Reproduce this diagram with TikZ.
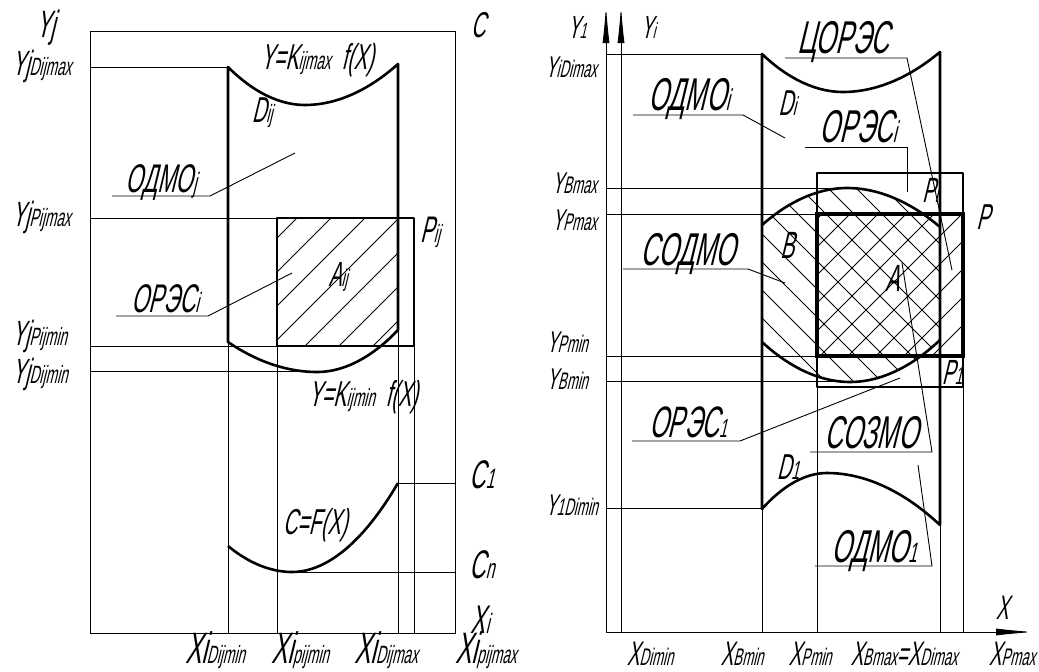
\documentclass[tikz,border=0pt]{standalone}
\usepackage{fontspec}
\newfontfamily\gost[FakeStretch=0.55,FakeSlant=0.24]{Liberation Sans}
\usetikzlibrary{arrows.meta}
\newcommand\fs[1]{\fontsize{#1}{#1}\selectfont}
\newcommand\Ls[4]{{\fs{#1}#3}{\fs{#2}#4}}
\tikzset{
  thinl/.style={line width=0.9pt},
  thickl/.style={line width=2.6pt, line join=round},
  heavy/.style={line width=3.4pt},
  hatchl/.style={line width=0.8pt},
  lbl/.style={inner sep=0pt, font=\gost},
  axisarrow/.style={line width=0.9pt, -{Latex[length=38pt,width=7pt]}},
}
\begin{document}
\begin{tikzpicture}[x=1pt,y=-1pt]
\useasboundingbox (0,0) rectangle (1039,672);

% ================= LEFT FIGURE =================
% hatching A_ij
\begin{scope}
  \clip (228,67) parabola bend (305,105) (398,64) -- (398,330) parabola bend (317,372) (228,342) -- cycle;
  \clip (277,218) rectangle (414,346);
  \foreach \k in {-2,...,8} \draw[hatchl] ({169+34*\k},346) -- ++(250,-250);
\end{scope}

% frame
\draw[thinl] (90,31) rectangle (455,633);
% horizontal guide lines
\coordinate (lyd1) at (90,67);   \coordinate (lyd2) at (228,67);
\coordinate (lyp1) at (90,218);  \coordinate (lyp2) at (277,218);
\coordinate (lyq1) at (90,346);  \coordinate (lyq2) at (277,346);
\coordinate (lye1) at (90,371);  \coordinate (lye2) at (317,371);
\draw[thinl] (lyd1) -- (lyd2) (lyp1) -- (lyp2) (lyq1) -- (lyq2) (lye1) -- (lye2);
% vertical guide lines
\draw[thinl] (228,342) -- (228,633) (277,346) -- (277,633) (398,330) -- (398,633) (414,346) -- (414,633);
\draw[thinl] (398,483) -- (455,483) (290,572) -- (455,572);

% D_ij outline
\draw[thickl] (228,67) parabola bend (305,105) (398,64) -- (398,330) parabola bend (317,372) (228,342) -- cycle;
% P_ij
\draw[thickl] (277,218) rectangle (414,346);
% C=F(X)
\draw[thickl] (228,546) parabola bend (292,572) (398,483);

% leaders left
\coordinate (u1a) at (112,196); \coordinate (u1b) at (210,196); \coordinate (u1c) at (295,153);
\coordinate (u2a) at (116,316); \coordinate (u2b) at (208,316); \coordinate (u2c) at (292,273);
\draw[thinl] (u1a) -- (u1b) -- (u1c);
\draw[thinl] (u2a) -- (u2b) -- (u2c);

% labels left
\node[lbl] (yj) at (46,28) {\fs{38}Yj};
\node[lbl] (cc) at (478,25) {\fs{36}C};
\node[lbl,anchor=base west] (yjdmax) at (12,75) {\Ls{35}{25}{Yj}{Dijmax}};
\node[lbl,anchor=base west] (yjpmax) at (12,226) {\Ls{35}{25}{Yj}{Pijmax}};
\node[lbl,anchor=base west] (yjpmin) at (12,345) {\Ls{35}{25}{Yj}{Pijmin}};
\node[lbl,anchor=base west] (yjdmin) at (12,383) {\Ls{35}{25}{Yj}{Dijmin}};
\node[lbl,anchor=base] (xdmin) at (215,663) {\Ls{44}{25}{Xi}{Dijmin}};
\node[lbl,anchor=base] (xpmin) at (300,663) {\Ls{44}{25}{Xi}{pijmin}};
\node[lbl,anchor=base] (xdmax) at (386,663) {\Ls{44}{25}{Xi}{Dijmax}};
\node[lbl,anchor=base] (xpmax) at (486,663) {\Ls{44}{25}{Xi}{pijmax}};
\node[lbl] (kmax) at (317,60) {\Ls{36}{25}{Y=K}{ijmax}{\fs{36}\ \ f(X)}};
\node[lbl] (kmin) at (363,397) {\Ls{36}{25}{Y=K}{ijmin}{\fs{36}\ \ f(X)}};
\node[lbl] (dij) at (262,113) {\Ls{36}{25}{D}{ij}};
\node[lbl] (aij) at (338,277) {\Ls{35}{24}{A}{ij}};
\node[lbl] (pij) at (430,232) {\Ls{37}{25}{P}{ij}};
\node[lbl] (cfx) at (315,525) {\fs{36}C=F(X)};
\node[lbl] (c1) at (482,475) {\Ls{40}{28}{C}{1}};
\node[lbl] (cn) at (482,565) {\Ls{40}{28}{C}{n}};
\node[lbl] (xil) at (480,620) {\Ls{40}{28}{X}{i}};
\node[lbl,anchor=base] (odmoj) at (161,192) {\Ls{40}{28}{ОДМО}{j}};
\node[lbl,anchor=base] (orsci) at (165,312) {\Ls{40}{28}{ОРЭС}{i}};

% ================= RIGHT FIGURE =================
% "\" hatching of B
\begin{scope}
  \clip (762,225) parabola bend (847,188) (940,227) -- (940,340) parabola bend (850,382) (762,342) -- cycle;
  \foreach \k in {-9,...,7} \draw[hatchl] ({770+28*\k},186) -- ++(300,300);
\end{scope}
% "/" hatching of P
\begin{scope}
  \clip (817,214) rectangle (962,356);
  \foreach \k in {-6,...,6} \draw[hatchl] ({820+28*\k},356) -- ++(200,-200);
\end{scope}

% axes
\coordinate (o) at (606,632);
\coordinate (y1top) at (606,5);
\coordinate (yio) at (621,632);
\coordinate (yitop) at (621,5);
\coordinate (xend) at (1034,632);
\draw[axisarrow] (o) -- (y1top);
\draw[axisarrow] (yio) -- (yitop);
\draw[axisarrow] (o) -- (xend);

% guide lines
\draw[thinl] (606,54) -- (762,54) (606,188) -- (847,188) (606,214) -- (817,214)
  (606,356) -- (817,356) (606,381) -- (850,381) (606,508) -- (762,508);
\draw[thinl] (762,509) -- (762,632) (817,387) -- (817,632) (940,525) -- (940,632) (963,387) -- (963,632);

% D outline
\draw[thickl] (762,54) parabola bend (843,92) (940,52) -- (940,525) parabola bend (827,473) (762,509) -- cycle;
% B arcs
\draw[thickl] (762,225) parabola bend (847,188) (940,227);
\draw[thickl] (762,342) parabola bend (850,382) (940,340);
% P_i, P_1, P
\draw[thickl] (817,173) rectangle (963,356);
\draw[thickl] (817,214) rectangle (963,387);
\draw[heavy] (817,214) rectangle (963,356);

% leaders right
\coordinate (r1a) at (785,58);  \coordinate (r1b) at (907,58);  \coordinate (r1c) at (952,270);
\coordinate (r2a) at (633,115); \coordinate (r2b) at (743,115); \coordinate (r2c) at (785,138);
\coordinate (r3a) at (805,147); \coordinate (r3b) at (907,147); \coordinate (r3c) at (907,192);
\coordinate (r4a) at (623,269); \coordinate (r4b) at (748,269); \coordinate (r4c) at (785,283);
\coordinate (r5a) at (632,441); \coordinate (r5b) at (740,441); \coordinate (r5c) at (900,378);
\coordinate (r6a) at (810,452); \coordinate (r6b) at (932,452); \coordinate (r6c) at (902,263);
\coordinate (r7a) at (815,566); \coordinate (r7b) at (932,566); \coordinate (r7c) at (918,465);
\foreach \n in {1,...,7} \draw[thinl] (r\n a) -- (r\n b) -- (r\n c);

% labels right
\node[lbl] (y1l) at (577,27) {\Ls{32}{22}{Y}{1}};
\node[lbl] (yil) at (648,27) {\Ls{32}{22}{Y}{i}};
\node[lbl,anchor=base east] (yidmax) at (597,77) {\Ls{30}{24}{Y}{iDimax}};
\node[lbl,anchor=base east] (ybmax) at (597,193) {\Ls{30}{24}{Y}{Bmax}};
\node[lbl,anchor=base east] (ypmax) at (597,230) {\Ls{30}{24}{Y}{Pmax}};
\node[lbl,anchor=base east] (ypmin) at (588,352) {\Ls{30}{24}{Y}{Pmin}};
\node[lbl,anchor=base east] (ybmin) at (588,389) {\Ls{30}{24}{Y}{Bmin}};
\node[lbl,anchor=base east] (y1dmin) at (598,515) {\Ls{30}{24}{Y}{1Dimin}};
\node[lbl,anchor=base] (xdimin) at (650,665) {\Ls{34}{24}{X}{Dimin}};
\node[lbl,anchor=base] (xbmin) at (742,665) {\Ls{34}{24}{X}{Bmin}};
\node[lbl,anchor=base] (xpminr) at (810,665) {\Ls{34}{24}{X}{Pmin}};
\node[lbl,anchor=base] (xbmax) at (904,665) {\Ls{34}{24}{X}{Bmax}\Ls{34}{24}{=X}{Dimax}};
\node[lbl,anchor=base] (xpmaxr) at (1012,665) {\Ls{34}{24}{X}{Pmax}};
\node[lbl] (xl) at (1002,608) {\fs{34}X};
\node[lbl] (dil) at (787,103) {\Ls{36}{26}{D}{i}};
\node[lbl] (bl) at (787,245) {\fs{38}B};
\node[lbl] (al) at (892,278) {\fs{38}A};
\node[lbl] (pil) at (930,190) {\Ls{35}{25}{P}{i}};
\node[lbl] (pl) at (983,217) {\fs{36}P};
\node[lbl] (p1l) at (952,372) {\Ls{35}{25}{P}{1}};
\node[lbl] (d1l) at (788,467) {\Ls{36}{26}{D}{1}};
\node[lbl,anchor=base] (corsc) at (843,53) {\fs{46}ЦОРЭС};
\node[lbl,anchor=base] (odmoi) at (689,110) {\Ls{46}{30}{ОДМО}{i}};
\node[lbl,anchor=base] (orscir) at (858,142) {\Ls{46}{30}{ОРЭС}{i}};
\node[lbl,anchor=base] (sodmo) at (688,265) {\fs{46}СОДМО};
\node[lbl,anchor=base] (orsc1) at (688,437) {\Ls{44}{26}{ОРЭС}{1}};
\node[lbl,anchor=base] (sozmo) at (871,448) {\fs{46}СОЗМО};
\node[lbl,anchor=base] (odmo1) at (874,562) {\Ls{46}{28}{ОДМО}{1}};
\end{tikzpicture}
\end{document}
